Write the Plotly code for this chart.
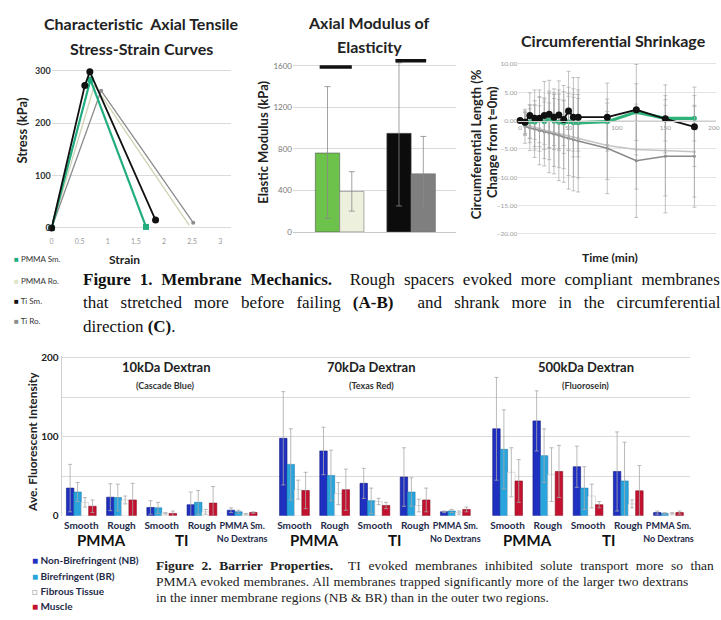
import plotly.graph_objects as go

W, H = 721, 620


def fx(p):
    return p / W


def fy(p):
    return 1 - p / H


# ---------------- Figure 1A: stress-strain curves ----------------
strain_pmma_sm = [0, 0.69, 1.68]
stress_pmma_sm = [0, 283, 2]
strain_pmma_ro = [0, 0.76, 2.45]
stress_pmma_ro = [0, 272, 5]
strain_ti_sm = [0, 0.59, 0.68, 1.85]
stress_ti_sm = [0, 272, 298, 15]
strain_ti_ro = [0, 0.88, 2.52]
stress_ti_ro = [0, 262, 10]
strain_ticks = [0, 0.5, 1, 1.5, 2, 2.5, 3]
strain_tick_labels = ["0", "0.5", "1", "1.5", "2", "2.5", "3"]
stress_ticks = [0, 100, 200, 300]

# ---------------- Figure 1B: axial modulus ----------------
modulus_groups = [0, 1]  # PMMA, Ti
modulus_smooth = [760, 950]
modulus_smooth_err_up = [640, 680]
modulus_smooth_err_dn = [630, 700]
modulus_rough = [390, 560]
modulus_rough_err_up = [190, 360]
modulus_rough_err_dn = [190, 330]
sig_x0 = [-0.28, 0.78]
sig_x1 = [0.17, 1.21]
sig_y = [1590, 1650]
modulus_ticks = [0, 400, 800, 1200, 1600]

# ---------------- Figure 1C: circumferential shrinkage ----------------
times = [0, 5, 10, 15, 20, 25, 30, 35, 40, 45, 50, 55, 60, 90, 120, 150, 180]
circ_ti_sm = [0, -0.3, 0.9, 0.4, 0.4, 0.9, 1.1, 0.6, 1.0, 0.2, 1.7, 0.6, 0.6, 0.6, 1.9, 0.3, -1.1]
circ_ti_sm_err = [0, 2, 4, 5, 5, 6, 6, 5, 6, 6, 7, 7, 7, 6, 8, 6, 7]
circ_pmma_sm = [0, -0.5, -0.2, -0.3, 0.1, -0.2, 0.2, -0.1, -0.3, -0.4, -0.2, -0.4, -0.4, -0.2, 1.5, 0.4, 0.4]
circ_pmma_sm_err = [0, 2, 3, 3, 4, 4, 5, 5, 5, 4, 5, 5, 5, 4, 5, 4, 4]
circ_ti_ro = [0, -1.0, -1.3, -1.5, -1.8, -2.0, -2.2, -2.4, -2.6, -2.9, -3.1, -3.4, -3.6, -4.9, -7.1, -6.3, -6.3]
circ_ti_ro_err = [0, 3, 4, 5, 6, 6, 7, 7, 8, 8, 9, 9, 9, 8, 10, 10, 9]
circ_pmma_ro = [0, -0.6, -0.9, -1.2, -1.4, -1.7, -1.9, -2.1, -2.3, -2.5, -2.7, -2.9, -3.1, -4.4, -5.1, -5.3, -5.5]
circ_pmma_ro_err = [0, 2, 3, 4, 4, 5, 5, 6, 6, 6, 7, 7, 7, 6, 7, 8, 8]
time_ticks = [0, 50, 100, 150, 200]
circ_ticks = [-20, -15, -10, -5, 0, 5, 10]

# ---------------- Figure 2: barrier properties ----------------
dextrans = ["10kDa Dextran", "70kDa Dextran", "500kDa Dextran"]
dyes = ["(Cascade Blue)", "(Texas Red)", "(Fluorosein)"]
conditions = ["Smooth", "Rough", "Smooth", "Rough",
              "<span style='font-size:9px'>PMMA Sm.<br>No Dextrans</span>"]
materials = ["PMMA", "TI"]
nb_vals = [[35, 23.5, 10.5, 14, 7], [98, 82, 41, 49, 5], [110, 120, 62, 56, 4]]
nb_err = [[30, 17, 8.5, 16, 3], [59, 30, 19, 37, 1], [65, 38, 26, 50, 2]]
br_vals = [[30, 23, 10, 17, 5], [65, 51, 19, 30, 6], [84, 76, 35, 44, 3]]
br_err = [[12, 17, 7, 15, 2], [45, 32, 16, 18, 2], [50, 34, 27, 49, 1]]
ft_vals = [[17, 20, 3, 5, 2], [33, 28, 18, 13, 4], [55, 52, 25, 15, 3]]
ft_err = [[6, 5, 1, 3, 1], [12, 14, 4, 8, 2], [31, 34, 15, 5, 1]]
mu_vals = [[12, 20, 3, 16, 4], [32, 33, 13, 20, 8], [44, 56, 14, 31.5, 4]]
mu_err = [[8, 21, 3, 21, 1], [23, 26, 4, 15, 3], [27, 33, 4, 32, 2]]
intensity_ticks = [0, 50, 100, 150, 200]
intensity_tick_labels = ["0", "", "100", "", "200"]

GROUP_STEP = 5.3
positions = [g * GROUP_STEP + i for g in range(3) for i in range(5)]


def flat(rows):
    return [v for r in rows for v in r]


C_PMMA_SM = "#22ad80"
C_PMMA_RO = "#dfe3c8"
C_TI_SM = "#111111"
C_TI_RO = "#8c8c8c"
C_NB = "#1f30c0"
C_BR = "#2aa4dc"
C_MU = "#c3122f"
ERR_GREY = "#a8a8a8"

fig = go.Figure()

# ---- 1A traces
fig.add_trace(go.Scatter(x=strain_pmma_ro, y=stress_pmma_ro, mode="lines",
                         line=dict(color="#cfd3b4", width=1.3), xaxis="x", yaxis="y", cliponaxis=False))
fig.add_trace(go.Scatter(x=strain_ti_ro, y=stress_ti_ro, mode="lines+markers",
                         line=dict(color=C_TI_RO, width=1.3), marker=dict(size=4, color=C_TI_RO),
                         xaxis="x", yaxis="y", cliponaxis=False))
fig.add_trace(go.Scatter(x=strain_pmma_sm, y=stress_pmma_sm, mode="lines+markers",
                         line=dict(color=C_PMMA_SM, width=2.2), marker=dict(size=6, color=C_PMMA_SM, symbol="square"),
                         xaxis="x", yaxis="y", cliponaxis=False))
fig.add_trace(go.Scatter(x=strain_ti_sm, y=stress_ti_sm, mode="lines+markers",
                         line=dict(color=C_TI_SM, width=1.8), marker=dict(size=7, color=C_TI_SM),
                         xaxis="x", yaxis="y", cliponaxis=False))

# ---- 1B traces
fig.add_trace(go.Bar(x=modulus_groups, y=modulus_smooth, width=0.34, offset=-0.34,
                     marker=dict(color=["#6cc24a", "#0c0c0c"], line=dict(color="#555555", width=0.6)),
                     error_y=dict(type="data", array=modulus_smooth_err_up, arrayminus=modulus_smooth_err_dn,
                                  color="#8a8a8a", thickness=0.8, width=3),
                     xaxis="x2", yaxis="y2"))
fig.add_trace(go.Bar(x=modulus_groups, y=modulus_rough, width=0.34, offset=0,
                     marker=dict(color=["#eef0de", "#7f7f7f"], line=dict(color="#777777", width=0.6)),
                     error_y=dict(type="data", array=modulus_rough_err_up, arrayminus=modulus_rough_err_dn,
                                  color="#8a8a8a", thickness=0.8, width=3),
                     xaxis="x2", yaxis="y2"))
for a, b, yv in zip(sig_x0, sig_x1, sig_y):
    fig.add_trace(go.Scatter(x=[a, b], y=[yv, yv], mode="lines", line=dict(color="#111111", width=3.5),
                             xaxis="x2", yaxis="y2", cliponaxis=False))

# ---- 1C traces
for vals, errs, col, wid, msize in [
    (circ_pmma_ro, circ_pmma_ro_err, "#c4c4c4", 1.6, 3),
    (circ_ti_ro, circ_ti_ro_err, "#8a8a8a", 1.6, 3),
    (circ_pmma_sm, circ_pmma_sm_err, "#2fb37a", 3.2, 5),
    (circ_ti_sm, circ_ti_sm_err, "#111111", 1.8, 7),
]:
    fig.add_trace(go.Scatter(x=times, y=vals, mode="lines+markers",
                             line=dict(color=col, width=wid), marker=dict(size=msize, color=col),
                             error_y=dict(type="data", array=errs, color=ERR_GREY, thickness=0.7, width=2),
                             xaxis="x3", yaxis="y3", cliponaxis=False))

# ---- Figure 2 bars
bw = 0.185
for k, (vals, errs, fill, lcol, name) in enumerate([
    (nb_vals, nb_err, C_NB, "#101880", "NB"),
    (br_vals, br_err, C_BR, "#1a7fb0", "BR"),
    (ft_vals, ft_err, "#ffffff", "#c9c9c9", "FT"),
    (mu_vals, mu_err, C_MU, "#8a0c20", "MU"),
]):
    fig.add_trace(go.Bar(x=positions, y=flat(vals), width=bw, offset=-2 * bw + k * bw,
                         marker=dict(color=fill, line=dict(color=lcol, width=0.6)),
                         error_y=dict(type="data", array=flat(errs), color=ERR_GREY, thickness=0.8, width=2),
                         xaxis="x4", yaxis="y4", name=name))

grid = "#dadada"
tick_small = dict(family="Lato", size=7, color="#9a9a9a")

fig.update_layout(
    width=W, height=H, margin=dict(l=0, r=0, t=0, b=0),
    paper_bgcolor="white", plot_bgcolor="rgba(0,0,0,0)",
    showlegend=False, barmode="overlay",
    font=dict(family="Lato", color="#222222"),
    # 1A
    xaxis=dict(domain=[fx(50), fx(231)], range=[0, 3.2], anchor="y", tickvals=strain_ticks,
               ticktext=strain_tick_labels, tickfont=tick_small, showgrid=False, zeroline=False,
               showline=False, ticks="", ticklabelstandoff=6),
    yaxis=dict(domain=[fy(228.6), fy(59)], range=[-3, 315], anchor="x", tickvals=stress_ticks,
               tickfont=dict(family="Lato", size=9, color="#333333", weight="bold"), gridcolor=grid,
               zeroline=False, showline=False, ticks=""),
    # 1B
    xaxis2=dict(domain=[fx(293), fx(457)], range=[-0.653, 1.625], anchor="y2", showticklabels=False,
                showgrid=False, zeroline=False, showline=True, linecolor="#c8c8c8", ticks=""),
    yaxis2=dict(domain=[fy(231), fy(51.4)], range=[0, 1700], anchor="x2", tickvals=modulus_ticks,
                tickfont=dict(family="Lato", size=8, color="#777777"), gridcolor=grid,
                zeroline=False, showline=False, ticks=""),
    # 1C
    xaxis3=dict(domain=[fx(519.8), fx(718.7)], range=[-2, 202], anchor="free", position=fy(118.3),
                tickvals=time_ticks, tickfont=dict(family="Lato", size=6.5, color="#9a9a9a"),
                showgrid=False, zeroline=False, showline=True, linecolor="#cfcfcf", ticks=""),
    yaxis3=dict(domain=[fy(238.8), fy(54.2)], range=[-21, 11], anchor="x3", tickvals=circ_ticks,
                tickformat=".2f", tickfont=dict(family="Lato", size=6.5, color="#9a9a9a"),
                gridcolor="#e4e4e4", zeroline=False, showline=False, ticks=""),
    # Figure 2
    xaxis4=dict(domain=[fx(60), fx(693)], range=[-0.49, 15.14], anchor="y4", tickvals=positions,
                ticktext=conditions * 3, tickfont=dict(family="Lato", size=10, color="#1e2a4a", weight="bold"),
                showgrid=False, zeroline=False, showline=False, ticks="", tickangle=0, ticklabelstandoff=2),
    yaxis4=dict(domain=[fy(520), fy(357.4)], range=[0, 202], anchor="x4", tickvals=intensity_ticks,
                ticktext=intensity_tick_labels,
                tickfont=dict(family="Lato", size=10, color="#222222", weight="bold"), gridcolor=grid,
                zeroline=False, showline=True, linecolor="#d0d0d0", ticks=""),
)

ann = []


def text(x, y, s, size, color="#222222", family="Lato", angle=0, xanchor="center", bold=False):
    ann.append(dict(x=fx(x), y=fy(y), xref="paper", yref="paper", text=s, showarrow=False,
                    textangle=angle, xanchor=xanchor, yanchor="middle",
                    font=dict(size=size, color=color, family=family, weight="bold" if bold else "normal")))


def spaced(s, px):
    return f"<span style='word-spacing:{px}px'>{s}</span>"


# Figure 1 titles / axis titles
text(140, 19, "Characteristic  Axial Tensile", 16, bold=True)
text(140, 44, "Stress-Strain Curves", 16, bold=True)
text(370, 18, "Axial Modulus of", 16, bold=True)
text(370, 42, "Elasticity", 16, bold=True)
text(616, 36, "Circumferential Shrinkage", 16, bold=True)
text(20, 127, "Stress (kPa)", 13, angle=-90, bold=True)
text(262, 140, "Elastic Modulus (kPa)", 13, angle=-90, bold=True)
text(478, 142, "Circumferential Length (%", 13, angle=-90, bold=True)
text(493, 140, "Change from t=0m)", 13, angle=-90, bold=True)
text(123, 259, "Strain", 12, bold=True)
text(612, 257, "Time (min)", 12, bold=True)

# Figure 1 legend
for yy, col, lab in [(259, C_PMMA_SM, "PMMA Sm."), (281, C_PMMA_RO, "PMMA Ro."),
                     (301, C_TI_SM, "Ti Sm."), (322, C_TI_RO, "Ti Ro.")]:
    text(10, yy, f"<span style='color:{col}'>■</span> {lab}", 8, color="#333333", xanchor="left")

# Figure 1 caption
serif = "Liberation Serif"
text(80, 279, spaced("<b>Figure 1. Membrane Mechanics.</b>  Rough spacers evoked more compliant membranes", 4.6),
     17, color="#111111", family=serif, xanchor="left")
text(80, 303, spaced("that stretched more before failing <b>(A-B)</b>  and shrank more in the circumferential", 7.8),
     17, color="#111111", family=serif, xanchor="left")
text(80, 327, "direction <b>(C)</b>.", 17, color="#111111", family=serif, xanchor="left")

# Figure 2 titles
for cx, t1, t2 in zip([165, 372, 588], dextrans, dyes):
    text(cx, 369, t1, 13, bold=True)
    text(cx, 387, t2, 9, color="#333333", bold=True)
text(30, 445, "Ave. Fluorescent Intensity", 12, angle=-90, bold=True)

# group labels (PMMA / TI) under each dextran
for g in range(3):
    for m, mat in enumerate(materials):
        ann.append(dict(x=g * GROUP_STEP + 2 * m + 0.5, y=fy(545), xref="x4", yref="paper", text=mat,
                        showarrow=False, yanchor="middle", xanchor="center",
                        font=dict(size=15, family="Lato", color="#111111", weight="bold")))

# Figure 2 legend
for yy, col, lab in [(565, C_NB, "Non-Birefringent (NB)"), (581, C_BR, "Birefringent (BR)"),
                     (597, "#bbbbbb", "Fibrous Tissue"), (612, C_MU, "Muscle")]:
    sym = "□" if lab == "Fibrous Tissue" else "■"
    text(28, yy, f"<span style='color:{col}'>{sym}</span> {lab}", 10, color="#1e2a4a", xanchor="left", bold=True)

# Figure 2 caption
text(153, 571, spaced("<b>Figure 2. Barrier Properties.</b>  TI evoked membranes inhibited solute transport more so than", 4.2),
     13.5, color="#222222", family=serif, xanchor="left")
text(153, 587, spaced("PMMA evoked membranes. All membranes trapped significantly more of the larger two dextrans", 0.6),
     13.5, color="#222222", family=serif, xanchor="left")
text(153, 603, "in the inner membrane regions (NB &amp; BR) than in the outer two regions.",
     13.5, color="#222222", family=serif, xanchor="left")

fig.update_layout(annotations=ann)
fig.write_html("out.html")
